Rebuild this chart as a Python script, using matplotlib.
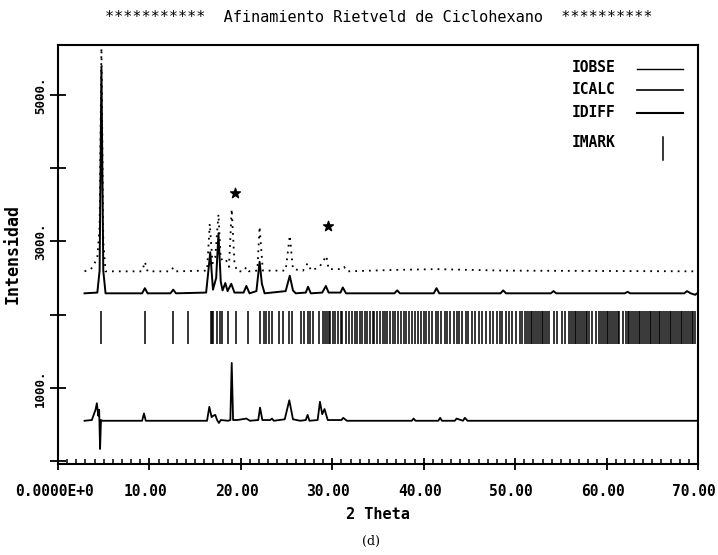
import matplotlib
matplotlib.use("Agg")
import matplotlib.pyplot as plt
from matplotlib.ticker import FixedLocator, MultipleLocator
from matplotlib.transforms import ScaledTranslation

# Rietveld refinement of cyclohexane: profile vertices (2-theta, counts)
OBS_X = [2.9, 3.6, 4.0, 4.3, 4.55, 4.75, 4.95, 5.2, 9.2, 9.5, 9.8, 12.3, 12.6, 12.9,
         16.3, 16.6, 16.9, 17.2, 17.55, 17.8, 18.3, 18.7, 19.0, 19.3, 19.6, 20.3,
         20.6, 20.9, 21.8, 22.05, 22.4, 24.9, 25.35, 25.7, 26.8, 27.3, 27.7, 28.6,
         29.1, 29.35, 29.6, 31.0, 31.3, 31.6, 37.0, 41.4, 48.7, 70.0]
OBS_Y = [2590, 2620, 2700, 2780, 3200, 5640, 3000, 2590, 2590, 2720, 2590, 2590, 2640, 2590,
         2600, 3240, 2700, 2780, 3370, 2750, 2770, 2650, 3440, 2700, 2590, 2590,
         2650, 2590, 2600, 3200, 2600, 2600, 3080, 2620, 2600, 2700, 2600, 2650,
         2750, 2800, 2620, 2620, 2650, 2590, 2610, 2620, 2600, 2590]

CALC_X = [2.9, 4.3, 4.55, 4.75, 4.95, 5.2, 9.2, 9.5, 9.8, 12.3, 12.6, 12.9,
          16.2, 16.45, 16.65, 16.95, 17.3, 17.55, 17.8, 18.0, 18.3, 18.55, 18.95, 19.3,
          20.3, 20.6, 20.95, 21.7, 22.05, 22.3, 22.6, 24.9, 25.35, 25.7, 26.0,
          27.1, 27.35, 27.65, 28.9, 29.3, 29.6, 30.9, 31.15, 31.5, 36.8, 37.1, 37.4,
          41.1, 41.4, 41.7, 48.4, 48.7, 49.0, 53.9, 54.2, 54.5, 62.0, 62.3, 62.6,
          68.5, 68.8, 69.2, 69.7, 70.0]
CALC_Y = [2290, 2300, 2600, 5380, 2600, 2290, 2290, 2360, 2290, 2290, 2340, 2290,
          2300, 2600, 2850, 2340, 2500, 3110, 2450, 2330, 2430, 2320, 2420, 2300,
          2300, 2390, 2290, 2320, 2720, 2420, 2290, 2320, 2530, 2330, 2290,
          2300, 2380, 2290, 2300, 2390, 2300, 2300, 2370, 2290, 2290, 2330, 2290,
          2290, 2360, 2290, 2290, 2330, 2290, 2290, 2320, 2290, 2290, 2310, 2290,
          2290, 2320, 2290, 2270, 2300]

DIFF_X = [2.9, 3.7, 4.1, 4.25, 4.4, 4.5, 4.6, 4.7, 4.85, 9.2, 9.4, 9.6,
          16.3, 16.55, 16.8, 17.0, 17.2, 17.4, 17.6, 17.8, 18.6, 18.85, 19.0, 19.15,
          19.6, 20.6, 21.0, 21.9, 22.1, 22.35, 23.2, 23.4, 23.6, 24.8, 25.3, 25.7,
          26.5, 27.1, 27.3, 27.5, 28.4, 28.65, 28.9, 29.15, 29.5, 31.0, 31.2, 31.6,
          38.7, 38.9, 39.1, 41.6, 41.8, 42.0, 43.4, 43.6, 44.3, 44.5, 44.8, 70.0]
DIFF_Y = [550, 560, 700, 790, 620, 700, 165, 560, 550, 550, 650, 550,
          550, 740, 600, 620, 630, 560, 520, 560, 550, 560, 1340, 560,
          560, 580, 550, 560, 730, 560, 560, 580, 550, 570, 830, 570,
          550, 560, 630, 550, 560, 810, 640, 710, 560, 560, 590, 550,
          550, 580, 550, 550, 590, 550, 550, 580, 550, 590, 550, 550]

# reflection positions (IMARK)
MARK_X = [4.75, 9.52, 12.54, 14.19, 16.69, 16.85, 17.0, 17.35, 17.67, 17.89, 18.56,
          19.45, 20.78, 22.12, 22.48, 22.79, 23.1, 23.46, 24.12, 24.57, 25.24, 25.6,
          26.57, 26.93, 27.29, 27.6, 27.91, 28.6, 29.0, 29.2, 29.4, 29.6, 29.8, 30.1,
          30.3, 30.6, 30.9, 31.1, 31.5, 31.8, 32.2, 32.5, 32.7, 33.0, 33.3, 33.6, 33.8,
          34.1, 34.4, 34.6, 34.9, 35.2, 35.5, 35.8, 36.0, 36.3, 36.6, 36.9, 37.2, 37.5,
          37.8, 38.1, 38.4, 38.7, 39.0, 39.4, 39.7, 40.0, 40.3, 40.6, 40.9, 41.3, 41.6,
          41.9, 42.3, 42.6, 42.9, 43.3, 43.6, 43.9, 44.2, 44.6, 44.9, 45.3, 45.6, 46.0,
          46.4, 46.8, 47.2, 47.6, 48.0, 48.3, 48.6, 49.0, 49.3, 49.7, 50.1, 50.5, 50.8,
          51.1, 51.3, 51.5, 51.7, 51.9, 52.1, 52.3, 52.5, 52.7, 52.9, 53.1, 53.3, 53.5,
          53.7, 54.2, 54.6, 55.1, 55.5, 55.9, 56.1, 56.3, 56.5, 56.7, 56.9, 57.1, 57.3,
          57.5, 57.7, 57.9, 58.1, 58.4, 58.8, 59.2, 59.4, 59.6, 59.8, 60.0, 60.2, 60.4,
          60.6, 60.8, 61.0, 61.2, 61.4, 61.8, 62.1, 62.3, 62.5, 62.7, 62.9, 63.1, 63.3,
          63.5, 63.7, 63.9, 64.1, 64.3, 64.5, 64.7, 64.9, 65.1, 65.3, 65.5, 65.7, 65.9,
          66.1, 66.3, 66.5, 66.7, 66.9, 67.1, 67.3, 67.5, 67.7, 67.9, 68.1, 68.3, 68.5,
          68.7, 68.9, 69.1, 69.3, 69.5, 69.7]
MARK_LO, MARK_HI = 1600, 2050

# impurity peaks flagged with a star
STAR_X = [19.4, 29.5]
STAR_Y = [3660, 3210]

X_TICKS = [0, 10, 20, 30, 40, 50, 60, 70]
X_LABELS = ["0.0000E+0", "10.00", "20.00", "30.00", "40.00", "50.00", "60.00", "70.00"]
Y_TICKS = [0, 1000, 2000, 3000, 4000, 5000]
Y_LABELS = ["", "1000.", "", "3000.", "", "5000."]

MONO = "DejaVu Sans Mono"
plt.rcParams.update({"font.family": MONO, "axes.linewidth": 1.5})

fig = plt.figure(figsize=(7.18, 5.55), dpi=100)
ax = fig.add_axes([0.0808, 0.164, 0.8913, 0.7549])

ax.plot(OBS_X, OBS_Y, color="black", lw=1.3, ls=(0, (1, 2.8)))
ax.plot(CALC_X, CALC_Y, color="black", lw=1.4)
ax.plot(DIFF_X, DIFF_Y, color="black", lw=1.3)
ax.vlines(MARK_X, MARK_LO, MARK_HI, color="black", lw=1.1)
ax.scatter(STAR_X, STAR_Y, marker="*", s=55, color="black", zorder=4)

ax.set_xlim(0, 70)
ax.set_ylim(-40, 5680)
ax.xaxis.set_major_locator(FixedLocator(X_TICKS))
ax.set_xticklabels(X_LABELS, fontsize=10.5, fontweight="bold")
ax.xaxis.set_minor_locator(MultipleLocator(1))
ax.yaxis.set_major_locator(FixedLocator(Y_TICKS))
ax.set_yticklabels(Y_LABELS, fontsize=9, fontweight="bold", rotation=90, va="center")
ax.tick_params(axis="x", which="major", direction="inout", length=9, width=1.3, pad=10)
ax.tick_params(axis="x", which="minor", direction="in", length=3.5, width=1.1)
ax.tick_params(axis="y", which="major", direction="inout", length=11, width=1.3, pad=2.5)

# the plotter set its x labels a few pixels left of the ticks
shift = ScaledTranslation(-4 / 100, 0, fig.dpi_scale_trans)
for lab in ax.get_xticklabels():
    lab.set_transform(lab.get_transform() + shift)

ax.set_xlabel("2 Theta", fontsize=11, fontweight="bold", labelpad=6)
ax.set_ylabel("Intensidad", fontsize=12, fontweight="bold", labelpad=9)
fig.text(0.527, 0.969, "***********  Afinamiento Rietveld de Ciclohexano  **********",
         ha="center", va="center", fontsize=11)
fig.text(0.517, 0.025, "(d)", ha="center", va="center", fontsize=9, family="DejaVu Serif")

# hand-drawn legend block in the upper right corner
rows = [("IOBSE", 0.947), ("ICALC", 0.895), ("IDIFF", 0.838), ("IMARK", 0.768)]
for name, yy in rows:
    ax.text(0.803, yy, name, transform=ax.transAxes, fontsize=10.5,
            fontweight="bold", va="center")
ax.plot([0.905, 0.977], [0.942, 0.942], transform=ax.transAxes, color="black", lw=1.0)
ax.plot([0.905, 0.977], [0.893, 0.893], transform=ax.transAxes, color="black", lw=1.2)
ax.plot([0.905, 0.977], [0.838, 0.838], transform=ax.transAxes, color="black", lw=1.5)
ax.plot([0.945, 0.945], [0.726, 0.780], transform=ax.transAxes, color="black", lw=1.1)

fig.savefig("out.png", dpi=100)
